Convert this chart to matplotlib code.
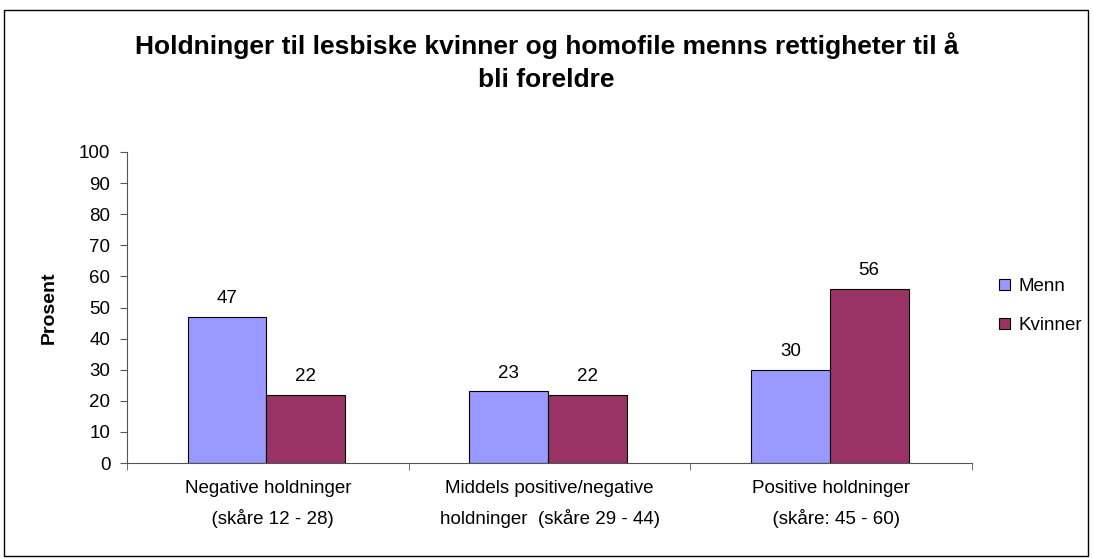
import numpy as np
import matplotlib.pyplot as plt
from matplotlib.patches import Rectangle

plt.rcParams["font.family"] = ["Liberation Sans", "DejaVu Sans"]

categories = ["Negative holdninger\n  (skåre 12 - 28)",
              "Middels positive/negative\nholdninger  (skåre 29 - 44)",
              "Positive holdninger\n  (skåre: 45 - 60)"]
menn = [47, 23, 30]
kvinner = [22, 22, 56]

fig = plt.figure(figsize=(10.93, 5.59), dpi=100)
ax = fig.add_axes([127 / 1093, 1 - 463 / 559, 845 / 1093, 311 / 559])

x = np.arange(len(categories))
w = 0.28
b1 = ax.bar(x - w / 2 - 0.005, menn, w, color="#9999FF", edgecolor="black", linewidth=0.8, label="Menn")
b2 = ax.bar(x + w / 2 - 0.005, kvinner, w, color="#993366", edgecolor="black", linewidth=0.8, label="Kvinner")
for bars in (b1, b2):
    ax.bar_label(bars, padding=7, fontsize=13.5)

ax.set_xlim(-0.5, 2.5)
ax.set_ylim(0, 100)
ax.set_yticks(range(0, 101, 10))
ax.set_xticks(x)
ax.set_xticklabels(categories, fontsize=13.5, linespacing=1.8)
ax.set_xticks([-0.5, 0.5, 1.5, 2.5], minor=True)
ax.tick_params(axis="x", which="major", length=0, pad=12)
ax.tick_params(axis="x", which="minor", length=5, color="#555555")
ax.tick_params(axis="y", length=5, color="#555555", labelsize=13.5, pad=7)
for s in ("top", "right"):
    ax.spines[s].set_visible(False)
for s in ("left", "bottom"):
    ax.spines[s].set_color("#555555")
ax.set_ylabel("Prosent", fontsize=14, fontweight="bold", labelpad=15)

fig.text(0.5, 1 - 46 / 559, "Holdninger til lesbiske kvinner og homofile menns rettigheter til å",
         ha="center", va="center", fontsize=19, fontweight="bold")
fig.text(0.5, 1 - 80 / 559, "bli foreldre", ha="center", va="center", fontsize=19, fontweight="bold")

ax.legend(loc="center left", bbox_to_anchor=(990 / 1093, 1 - 306 / 559), bbox_transform=fig.transFigure,
          frameon=False, fontsize=13.5, handlelength=0.55, handleheight=0.55, handletextpad=0.45,
          labelspacing=1.15, borderpad=0)

fig.patches.append(Rectangle((4 / 1093, 1 - 556 / 559), 1084 / 1093, 546 / 559, transform=fig.transFigure,
                             fill=False, edgecolor="black", linewidth=1))

fig.savefig("out.png", dpi=100)
